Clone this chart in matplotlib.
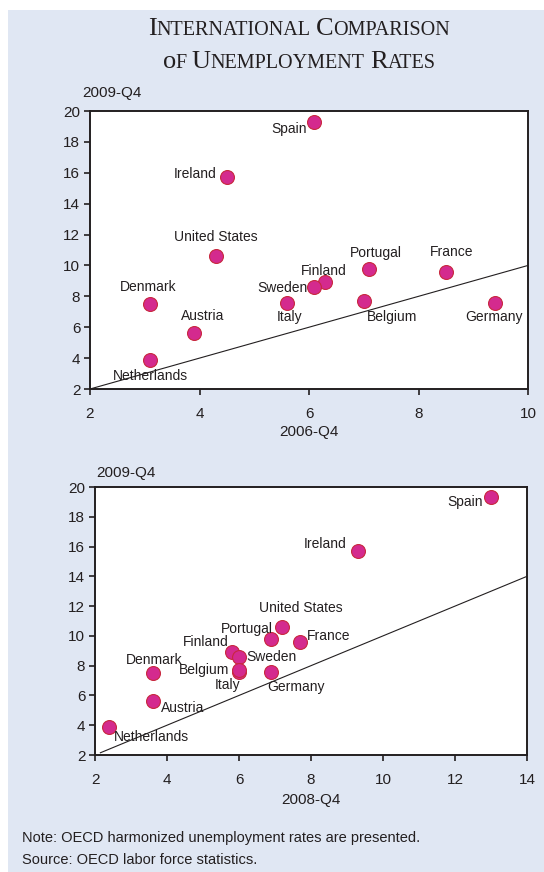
import matplotlib
matplotlib.use("Agg")
import matplotlib.pyplot as plt
from matplotlib.patches import Rectangle
from matplotlib.offsetbox import TextArea, HPacker, AnnotationBbox

# data: unemployment rates (%)
countries = ["Spain", "Ireland", "United States", "Portugal", "France", "Finland",
             "Sweden", "Denmark", "Italy", "Belgium", "Germany", "Austria", "Netherlands"]
rate_2009q4 = [19.3, 15.7, 10.6, 9.8, 9.6, 8.9, 8.6, 7.5, 7.6, 7.7, 7.6, 5.6, 3.9]
rate_2006q4 = [6.1, 4.5, 4.3, 7.1, 8.5, 6.3, 6.1, 3.1, 5.6, 7.0, 9.4, 3.9, 3.1]
rate_2008q4 = [13.0, 9.3, 7.2, 6.9, 7.7, 5.8, 6.0, 3.6, 6.0, 6.0, 6.9, 3.6, 2.4]

# label placement (ha, dx px, dy px)
lab_top = {"Spain": ("right", -8, -7), "Ireland": ("right", -10, 3),
           "United States": ("center", 0, 19), "Portugal": ("center", 7, 16),
           "France": ("center", 6, 20), "Finland": ("center", -2, 11),
           "Sweden": ("right", -7, -1), "Denmark": ("center", -2, 17),
           "Italy": ("center", 2, -14), "Belgium": ("left", 3, -16),
           "Germany": ("center", -1, -14), "Austria": ("center", 9, 17),
           "Netherlands": ("center", 0, -16)}
lab_bot = {"Spain": ("right", -8, -5), "Ireland": ("right", -11, 7),
           "United States": ("center", 19, 19), "Portugal": ("right", 1, 10),
           "France": ("left", 7, 6), "Finland": ("right", -3, 10),
           "Sweden": ("left", 7, 0), "Denmark": ("center", 2, 13),
           "Italy": ("right", 1, -13), "Belgium": ("right", -10, 0),
           "Germany": ("center", 25, -15), "Austria": ("left", 8, -7),
           "Netherlands": ("left", 4, -10)}

bg = "#E0E7F3"
txt = "#231F20"
fill = "#D42A8E"
edge = "#C8283E"
plt.rcParams["font.family"] = ["Liberation Sans", "DejaVu Sans"]
plt.rcParams["font.size"] = 10

fig = plt.figure(figsize=(5.44, 8.72), dpi=100)
fig.patches.append(Rectangle((8 / 544, 0), 1, 1 - 10 / 872, transform=fig.transFigure,
                             facecolor=bg, edgecolor="none", zorder=-10))

px = 0.72  # points per pixel


def panel(rect, xs, xlim, xticks, labels, line_x, xlabel, xlab_pos, ylab_pos):
    ax = fig.add_axes(rect)
    ax.set_facecolor("white")
    ax.plot(line_x, line_x, color=txt, lw=0.8, zorder=1)
    ax.scatter(xs, rate_2009q4, s=100, color=fill, edgecolor=edge, linewidth=0.8, zorder=3)
    for c, x, y in zip(countries, xs, rate_2009q4):
        ha, dx, dy = labels[c]
        ax.annotate(c, (x, y), xytext=(dx * px, dy * px), textcoords="offset points",
                    ha=ha, va="center", color=txt, fontsize=10, zorder=4)
    ax.set_xlim(xlim)
    ax.set_ylim(2, 20)
    ax.set_xticks(xticks)
    ax.set_yticks(range(2, 21, 2))
    ax.tick_params(direction="out", length=4, width=1.2, color=txt, labelcolor=txt,
                   labelsize=11)
    ax.tick_params(axis="x", pad=9)
    ax.tick_params(axis="y", pad=3)
    for s in ax.spines.values():
        s.set_color(txt)
        s.set_linewidth(1.4)
    fig.text(xlab_pos[0], xlab_pos[1], xlabel, ha="center", va="center", color=txt, fontsize=11)
    fig.text(ylab_pos[0], ylab_pos[1], "2009-Q4", ha="left", va="center", color=txt, fontsize=11)
    return ax


panel([90 / 544, 1 - 389 / 872, 438 / 544, 278 / 872], rate_2006q4, (2, 10),
      range(2, 11, 2), lab_top, [2, 10], "2006-Q4", (309 / 544, 1 - 432 / 872),
      (82 / 544, 1 - 93 / 872))
panel([95 / 544, 1 - 755 / 872, 432 / 544, 268 / 872], rate_2008q4, (2, 14),
      range(2, 15, 2), lab_bot, [2.15, 14], "2008-Q4", (311 / 544, 1 - 800 / 872),
      (96 / 544, 1 - 473 / 872))

# small-caps title
def smallcaps_line(words, y):
    parts = []
    for w in words:
        parts.append(TextArea(w[0], textprops=dict(fontsize=19, family="Liberation Serif", color=txt)))
        if len(w) > 1:
            parts.append(TextArea(w[1:].upper(), textprops=dict(fontsize=14.5, family="Liberation Serif", color=txt)))
        parts.append(TextArea(" ", textprops=dict(fontsize=14.5, family="Liberation Serif")))
    box = HPacker(children=parts[:-1], align="baseline", pad=0, sep=0)
    ab = AnnotationBbox(box, (299 / 544, 1 - y / 872), xycoords="figure fraction",
                        box_alignment=(0.5, 0.5), frameon=False)
    fig.add_artist(ab)


smallcaps_line(["International", "Comparison"], 29)
smallcaps_line(["of", "Unemployment", "Rates"], 62)

fig.text(22 / 544, 1 - 838 / 872, "Note: OECD harmonized unemployment rates are presented.",
         ha="left", va="center", color=txt, fontsize=10.5)
fig.text(22 / 544, 1 - 860 / 872, "Source: OECD labor force statistics.",
         ha="left", va="center", color=txt, fontsize=10.5)

fig.savefig("out.png", dpi=100, facecolor="white")
